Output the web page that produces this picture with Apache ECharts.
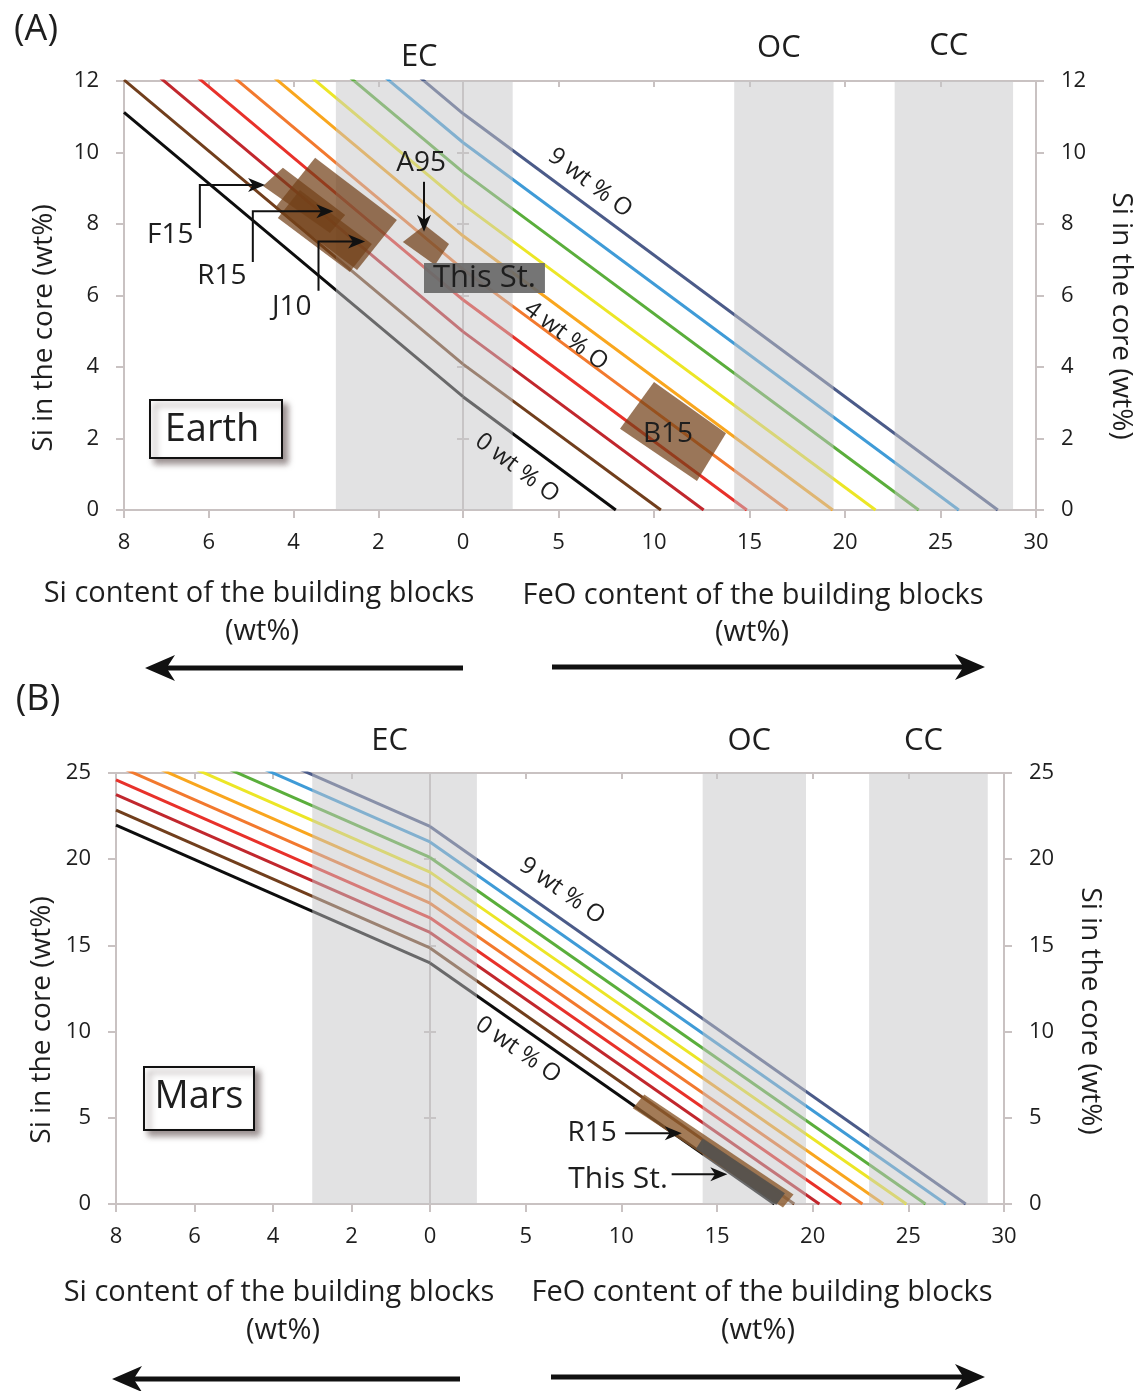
<!DOCTYPE html>
<html><head><meta charset="utf-8">
<script src="https://cdn.jsdelivr.net/npm/echarts@6/dist/echarts.min.js"></script>
<style>html,body{margin:0;padding:0;background:#fff}#main{width:1143px;height:1391px}</style>
</head><body><div id="main"></div>
<script>
// ---------------- DATA ----------------
const oxygenWt = [0, 1, 2, 3, 4, 5, 6, 7, 8, 9];
const lineColors = ['#0d0d0d', '#713e1c', '#c1272d', '#e8312a', '#f2792e', '#f9a61e', '#ece626', '#5aae3b', '#3f9bd7', '#4b5b89'];

// Earth: Si in core at Si content = 8 wt%, at 0, and FeO content where it reaches 0
const earthSiAt8 = [11.12, 12.03, 12.94, 13.83, 14.68, 15.62, 16.50, 17.40, 18.23, 19.04];
const earthSiAt0 = [3.17, 4.08, 4.99, 5.88, 6.73, 7.67, 8.55, 9.45, 10.28, 11.09];
const earthFeOEnd = [8.0, 10.36, 12.6, 14.86, 17.0, 19.36, 21.6, 23.86, 25.96, 28.0];

// Mars
const marsSiAt8 = [21.98, 22.85, 23.75, 24.6, 25.45, 26.35, 27.25, 28.1, 29.0, 29.9];
const marsSiAt0 = [13.98, 14.85, 15.75, 16.6, 17.45, 18.35, 19.25, 20.1, 21.0, 21.9];
const marsFeOEnd = [18.0, 19.04, 20.35, 21.5, 22.6, 23.7, 24.9, 25.9, 26.96, 28.0];

// Chondrite bands (EC spans Si side and FeO side)
const bandNames = ['EC', 'OC', 'CC'];
const earthBandSi = [[3, 0]];
const earthBandFeO = [[0, 2.6], [14.2, 19.4], [22.6, 28.8]];
const marsBandSi = [[3, 0]];
const marsBandFeO = [[0, 2.45], [14.25, 19.65], [22.95, 29.15]];

// Axis ranges / ticks
const siTicksMax = 8, siInterval = 2;
const feoMax = 30, feoInterval = 5;
const earthYMax = 12, earthYInterval = 2;
const marsYMax = 25, marsYInterval = 5;

// Study boxes (corners in data coordinates)
const earthBoxF15 = [[4.25, 9.57], [2.78, 8.25], [3.14, 7.75], [4.72, 9.06]];
const earthBoxR15 = [[3.49, 9.85], [1.56, 8.11], [2.50, 6.71], [4.44, 8.45]];
const earthBoxJ10 = [[3.85, 8.95], [2.15, 7.44], [2.67, 6.66], [4.37, 8.17]];
const earthBoxA95 = [[0.90, 7.97], [0.33, 7.44], [0.66, 6.85], [1.42, 7.50]];
const earthBoxB15 = [[10.0, 3.58], [13.77, 2.15], [12.25, 0.81], [8.22, 2.27]];
const marsBoxR15 = [[11.2, 6.35], [19.0, 0.55], [18.45, -0.2], [10.6, 5.55]];
const marsBoxThisSt = [[14.25, 3.8], [18.55, 0.62], [18.1, -0.05], [13.9, 3.2]];

// ---------------- STYLE ----------------
const FONT = '"Open Sans", "Noto Sans", sans-serif';
const AXIS_COLOR = '#C9C2C2';
const TEXT = '#1E1E1E';
const BAND_FILL = 'rgba(198,198,200,0.5)';
const BOX_FILL = 'rgba(115,65,25,0.72)';

const chart = echarts.init(document.getElementById('main'), null, {renderer: 'canvas'});

const grids = [
  {left: 124, top: 81, width: 339, height: 429},
  {left: 463, top: 81, width: 573, height: 429},
  {left: 116, top: 773, width: 314, height: 431},
  {left: 430, top: 773, width: 574, height: 431}
];

function xAx(g, max, interval, inverse, pos, showLabels, showMin) {
  return {
    gridIndex: g, type: 'value', min: 0, max: max, interval: interval, inverse: inverse, position: pos,
    axisLine: {show: true, onZero: false, lineStyle: {color: AXIS_COLOR, width: 2}},
    axisTick: {show: true, inside: pos === 'top', length: pos === 'top' ? 6 : 8, lineStyle: {color: AXIS_COLOR, width: 2}},
    axisLabel: {show: showLabels, fontSize: 22, color: TEXT, fontFamily: FONT, margin: 22, showMinLabel: showMin},
    splitLine: {show: false}
  };
}
function yAx(g, max, interval, pos, showLabels, tickLen) {
  return {
    gridIndex: g, type: 'value', min: 0, max: max, interval: interval, position: pos,
    axisLine: {show: true, onZero: false, lineStyle: {color: AXIS_COLOR, width: 2}},
    axisTick: {show: true, length: tickLen, lineStyle: {color: AXIS_COLOR, width: 2}},
    axisLabel: {show: showLabels, fontSize: 22, color: TEXT, fontFamily: FONT, margin: 25},
    splitLine: {show: false}
  };
}

const xAxis = [
  xAx(0, siTicksMax, siInterval, true, 'bottom', true, true),
  xAx(0, siTicksMax, siInterval, true, 'top', false, true),
  xAx(1, feoMax, feoInterval, false, 'bottom', true, false),
  xAx(1, feoMax, feoInterval, false, 'top', false, false),
  xAx(2, siTicksMax, siInterval, true, 'bottom', true, true),
  xAx(2, siTicksMax, siInterval, true, 'top', false, true),
  xAx(3, feoMax, feoInterval, false, 'bottom', true, false),
  xAx(3, feoMax, feoInterval, false, 'top', false, false)
];
const yAxis = [
  yAx(0, earthYMax, earthYInterval, 'left', true, 8),
  yAx(0, earthYMax, earthYInterval, 'right', false, 6),
  yAx(1, earthYMax, earthYInterval, 'left', false, 6),
  yAx(1, earthYMax, earthYInterval, 'right', true, 8),
  yAx(2, marsYMax, marsYInterval, 'left', true, 8),
  yAx(2, marsYMax, marsYInterval, 'right', false, 6),
  yAx(3, marsYMax, marsYInterval, 'left', false, 6),
  yAx(3, marsYMax, marsYInterval, 'right', true, 8)
];
// [xAxisIndex, yAxisIndex] per grid
const gridAxes = [[0, 0], [2, 3], [4, 4], [6, 7]];

const series = [];
function addLines(gL, gR, at8, at0, feoEnd) {
  oxygenWt.forEach((o, i) => {
    const common = {type: 'line', symbol: 'none', silent: true, z: 2, clip: true,
      lineStyle: {color: lineColors[i], width: 3}};
    series.push(Object.assign({}, common, {xAxisIndex: gridAxes[gL][0], yAxisIndex: gridAxes[gL][1],
      data: [[siTicksMax, at8[i]], [0, at0[i]]]}));
    series.push(Object.assign({}, common, {xAxisIndex: gridAxes[gR][0], yAxisIndex: gridAxes[gR][1],
      data: [[0, at0[i]], [feoEnd[i], 0]]}));
  });
}
addLines(0, 1, earthSiAt8, earthSiAt0, earthFeOEnd);
addLines(2, 3, marsSiAt8, marsSiAt0, marsFeOEnd);

function addBands(g, bands) {
  series.push({
    type: 'custom', xAxisIndex: gridAxes[g][0], yAxisIndex: gridAxes[g][1], z: 3, silent: true,
    data: bands,
    renderItem: function (params, api) {
      const cs = params.coordSys;
      const x1 = api.coord([api.value(0), 0])[0];
      const x2 = api.coord([api.value(1), 0])[0];
      return {type: 'rect', shape: {x: Math.min(x1, x2), y: cs.y, width: Math.abs(x2 - x1), height: cs.height},
        style: {fill: BAND_FILL}};
    }
  });
}
addBands(0, earthBandSi); addBands(1, earthBandFeO);
addBands(2, marsBandSi); addBands(3, marsBandFeO);

function addBoxes(g, boxes, fills) {
  series.push({
    type: 'custom', xAxisIndex: gridAxes[g][0], yAxisIndex: gridAxes[g][1], z: 4, silent: true,
    data: boxes.map((b, i) => [0, 0, i]),
    encode: {x: 0, y: 1},
    renderItem: function (params, api) {
      const idx = params.dataIndex;
      const pts = boxes[idx].map(p => api.coord(p));
      return {type: 'polygon', shape: {points: pts}, style: {fill: fills[idx]}};
    }
  });
}
addBoxes(0, [earthBoxF15, earthBoxR15, earthBoxJ10, earthBoxA95], [BOX_FILL, BOX_FILL, BOX_FILL, BOX_FILL]);
addBoxes(1, [earthBoxB15], [BOX_FILL]);
addBoxes(3, [marsBoxR15, marsBoxThisSt], ['rgba(140,90,45,0.8)', 'rgba(85,82,78,0.93)']);

chart.setOption({animation: false, grid: grids, xAxis: xAxis, yAxis: yAxis, series: series});

// ---------------- ANNOTATIONS ----------------
function P(g, pt) { return chart.convertToPixel({xAxisIndex: gridAxes[g][0], yAxisIndex: gridAxes[g][1]}, pt); }
const G = [];
function text(t, x, y, size, opts) {
  opts = opts || {};
  G.push({type: 'text', x: x, y: y, rotation: opts.rot || 0, z: 100, silent: true,
    style: {text: t, fontSize: size, fontFamily: FONT, fill: opts.fill || TEXT, align: 'center', verticalAlign: 'middle'}});
}
function arrow(pts, lw, hl, hh) {
  const n = pts.length, tip = pts[n - 1], prev = pts[n - 2];
  const dx = tip[0] - prev[0], dy = tip[1] - prev[1], L = Math.hypot(dx, dy);
  const ux = dx / L, uy = dy / L, px = -uy, py = ux;
  const lp = pts.slice(0, n - 1).concat([[tip[0] - ux * hl * 0.6, tip[1] - uy * hl * 0.6]]);
  G.push({type: 'polyline', z: 100, silent: true, shape: {points: lp}, style: {stroke: '#111', lineWidth: lw, fill: 'none'}});
  G.push({type: 'polygon', z: 100, silent: true, shape: {points: [tip,
    [tip[0] - ux * hl + px * hh, tip[1] - uy * hl + py * hh],
    [tip[0] - ux * hl * 0.72, tip[1] - uy * hl * 0.72],
    [tip[0] - ux * hl - px * hh, tip[1] - uy * hl - py * hh]]}, style: {fill: '#111'}});
}

// panel letters
text('(A)', 36, 30, 36);
text('(B)', 38, 700, 36);

// band labels (centred over the bands)
function bandLabel(gSi, bandSi, gFeO, bandFeO, ys) {
  const ecL = P(gSi, [bandSi[0][0], 0])[0], ecR = P(gFeO, [bandFeO[0][1], 0])[0];
  text(bandNames[0], (ecL + ecR) / 2 - 5, ys[0], 31);
  for (let k = 1; k < 3; k++) {
    const a = P(gFeO, [bandFeO[k][0], 0])[0], b = P(gFeO, [bandFeO[k][1], 0])[0];
    text(bandNames[k], (a + b) / 2 - 5, ys[k], 31);
  }
}
bandLabel(0, earthBandSi, 1, earthBandFeO, [57, 48, 46]);
bandLabel(2, marsBandSi, 3, marsBandFeO, [741, 741, 741]);

// axis titles
const TS = 29;
text('Si in the core (wt%)', 44, 328, 28, {rot: Math.PI / 2});
text('Si in the core (wt%)', 1121, 316, 28, {rot: -Math.PI / 2});
text('Si in the core (wt%)', 42, 1020, 28, {rot: Math.PI / 2});
text('Si in the core (wt%)', 1090, 1011, 28, {rot: -Math.PI / 2});
text('Si content of the building blocks', 259, 594, TS);
text('(wt%)', 262, 632, TS);
text('FeO content of the building blocks', 753, 596, TS);
text('(wt%)', 752, 633, TS);
text('Si content of the building blocks', 279, 1293, TS);
text('(wt%)', 283, 1331, TS);
text('FeO content of the building blocks', 762, 1293, TS);
text('(wt%)', 758, 1331, TS);

// big direction arrows
arrow([[463, 668], [145, 668]], 5, 30, 13);
arrow([[552, 667], [985, 667]], 5, 30, 13);
arrow([[460, 1379], [112, 1379]], 5, 30, 13);
arrow([[551, 1377], [985, 1377]], 5, 30, 13);

// planet boxes
G.push({type: 'rect', z: 100, silent: true, shape: {x: 150, y: 400, width: 132, height: 58},
  style: {fill: '#fff', stroke: '#111', lineWidth: 2, shadowBlur: 6, shadowOffsetX: 5, shadowOffsetY: 5, shadowColor: 'rgba(60,40,40,0.5)'}});
text('Earth', 212, 430, 38);
G.push({type: 'rect', z: 100, silent: true, shape: {x: 144, y: 1067, width: 110, height: 63},
  style: {fill: '#fff', stroke: '#111', lineWidth: 2, shadowBlur: 6, shadowOffsetX: 5, shadowOffsetY: 5, shadowColor: 'rgba(60,40,40,0.5)'}});
text('Mars', 199, 1097, 38);

// line labels
const rotA = -37 * Math.PI / 180, rotB = -35 * Math.PI / 180;
let p;
p = P(1, [6.65, 9.15]); text('9 wt % O', p[0], p[1], 24, {rot: rotA});
p = P(1, [5.39, 4.87]); text('4 wt % O', p[0], p[1], 24, {rot: rotA});
p = P(1, [2.83, 1.17]); text('0 wt % O', p[0], p[1], 24, {rot: rotA});
p = P(3, [6.9, 18.16]); text('9 wt % O', p[0], p[1], 24, {rot: rotB});
p = P(3, [4.6, 8.93]); text('0 wt % O', p[0], p[1], 24, {rot: rotB});

// Earth study annotations
p = P(0, [6.91, 7.69]); text('F15', p[0], p[1], 28);
arrow([[6.21, 7.89], [6.21, 9.09], [4.67, 9.09]].map(q => P(0, q)), 2, 17, 7);
p = P(0, [5.69, 6.55]); text('R15', p[0], p[1], 28);
arrow([[4.96, 6.94], [4.96, 8.36], [3.06, 8.36]].map(q => P(0, q)), 2, 17, 7);
p = P(0, [4.04, 5.68]); text('J10', p[0], p[1], 28);
arrow([[3.41, 6.13], [3.41, 7.51], [2.31, 7.51]].map(q => P(0, q)), 2, 17, 7);
p = P(0, [0.99, 9.71]); text('A95', p[0], p[1], 28);
arrow([[0.92, 9.18], [0.92, 7.78]].map(q => P(0, q)), 2, 17, 7);
const tl = P(0, [0.92, 6.91]), br = P(1, [4.29, 6.07]);
G.push({type: 'rect', z: 99, silent: true, shape: {x: tl[0], y: tl[1], width: br[0] - tl[0], height: br[1] - tl[1]},
  style: {fill: 'rgba(105,105,105,0.92)'}});
text('This St.', (tl[0] + br[0]) / 2, (tl[1] + br[1]) / 2, 31);
p = P(1, [10.73, 2.13]); text('B15', p[0], p[1], 28);

// Mars study annotations
p = P(3, [8.47, 4.12]); text('R15', p[0], p[1], 28);
arrow([[10.2, 4.1], [13.16, 4.1]].map(q => P(3, q)), 2, 17, 7);
p = P(3, [9.83, 1.45]); text('This St.', p[0], p[1], 30);
arrow([[12.63, 1.72], [15.54, 1.72]].map(q => P(3, q)), 2, 17, 7);

chart.setOption({graphic: G});
</script></body></html>
